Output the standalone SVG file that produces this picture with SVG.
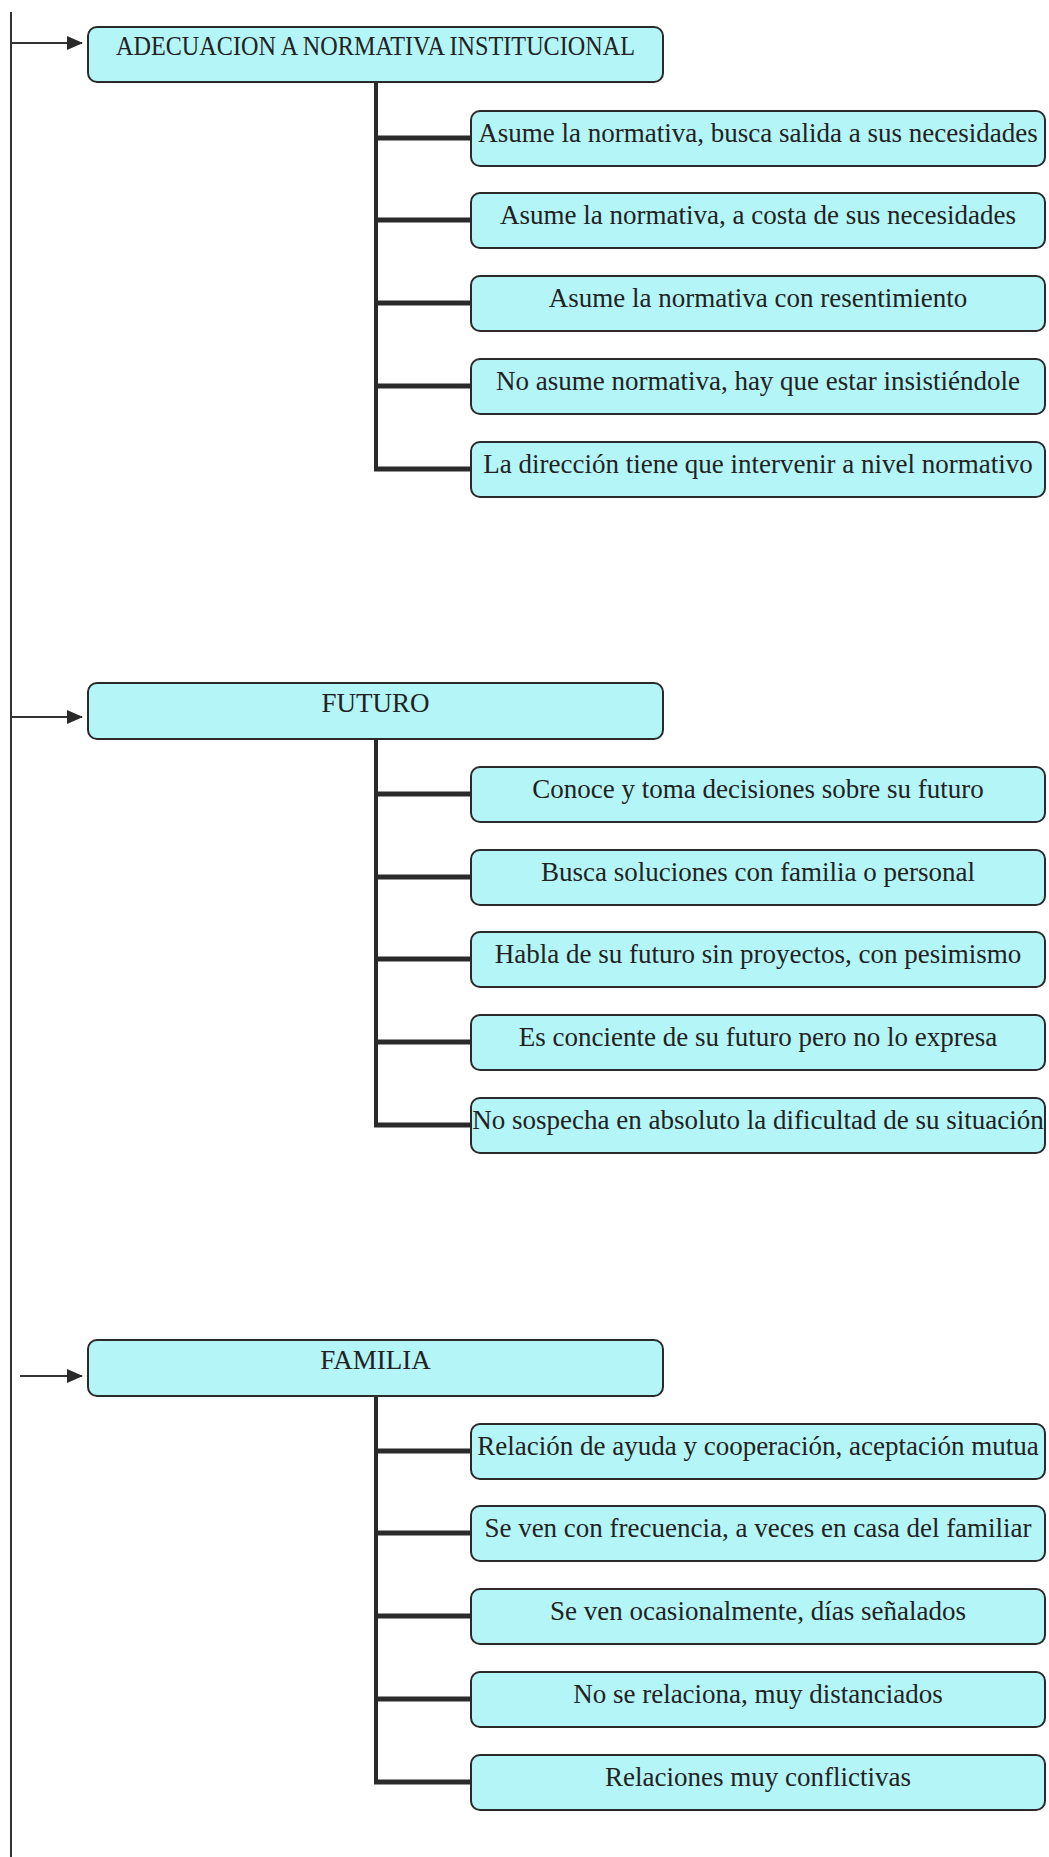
<svg xmlns="http://www.w3.org/2000/svg" width="1049" height="1857" viewBox="0 0 1049 1857">
<style>
.box{fill:#b4f5f7;stroke:#2a2a2a;stroke-width:2}
.t{font-family:"Liberation Serif","Times New Roman",serif;font-size:27px;fill:#222;text-anchor:middle}
.main{stroke:#333;stroke-width:2;fill:none}
.arr{stroke:#333;stroke-width:2;fill:none}
.trunk{stroke:#2a2a2a;stroke-width:4;fill:none}
.br{stroke:#2a2a2a;stroke-width:5;fill:none}
</style>
<defs>
<marker id="ah" markerUnits="userSpaceOnUse" markerWidth="16" markerHeight="14" refX="15" refY="7" orient="auto">
<path d="M0,0 L16,7 L0,14 Z" fill="#2a2a2a"/>
</marker>
</defs>
<g id="connectors">
<line class="main" x1="11" y1="12" x2="11" y2="1857"/>
<line class="arr" x1="12" y1="43" x2="82" y2="43" marker-end="url(#ah)"/>
<line class="arr" x1="12" y1="717" x2="82" y2="717" marker-end="url(#ah)"/>
<line class="arr" x1="20" y1="1376" x2="82" y2="1376" marker-end="url(#ah)"/>
<path class="trunk" d="M376,82 V469"/>
<path class="br" d="M376,138 H471 M376,220 H471 M376,303 H471 M376,386 H471 M374,469 H471"/>
<path class="trunk" d="M376,739 V1125"/>
<path class="br" d="M376,794 H471 M376,877 H471 M376,959 H471 M376,1042 H471 M374,1125 H471"/>
<path class="trunk" d="M376,1396 V1782"/>
<path class="br" d="M376,1451 H471 M376,1533 H471 M376,1616 H471 M376,1699 H471 M374,1782 H471"/>
</g>
<g id="n1"><rect class="box" x="88" y="27" width="575" height="55" rx="9"/><text class="t" x="375.5" y="55" textLength="519" lengthAdjust="spacingAndGlyphs">ADECUACION A NORMATIVA INSTITUCIONAL</text></g>
<g id="n1a"><rect class="box" x="471" y="111" width="574" height="55" rx="9"/><text class="t" x="758" y="142">Asume la normativa, busca salida a sus necesidades</text></g>
<g id="n1b"><rect class="box" x="471" y="193" width="574" height="55" rx="9"/><text class="t" x="758" y="224">Asume la normativa, a costa de sus necesidades</text></g>
<g id="n1c"><rect class="box" x="471" y="276" width="574" height="55" rx="9"/><text class="t" x="758" y="307">Asume la normativa con resentimiento</text></g>
<g id="n1d"><rect class="box" x="471" y="359" width="574" height="55" rx="9"/><text class="t" x="758" y="390">No asume normativa, hay que estar insistiéndole</text></g>
<g id="n1e"><rect class="box" x="471" y="442" width="574" height="55" rx="9"/><text class="t" x="758" y="473">La dirección tiene que intervenir a nivel normativo</text></g>
<g id="n2"><rect class="box" x="88" y="683" width="575" height="56" rx="9"/><text class="t" x="375.5" y="712">FUTURO</text></g>
<g id="n2a"><rect class="box" x="471" y="767" width="574" height="55" rx="9"/><text class="t" x="758" y="798">Conoce y toma decisiones sobre su futuro</text></g>
<g id="n2b"><rect class="box" x="471" y="850" width="574" height="55" rx="9"/><text class="t" x="758" y="881">Busca soluciones con familia o personal</text></g>
<g id="n2c"><rect class="box" x="471" y="932" width="574" height="55" rx="9"/><text class="t" x="758" y="963">Habla de su futuro sin proyectos, con pesimismo</text></g>
<g id="n2d"><rect class="box" x="471" y="1015" width="574" height="55" rx="9"/><text class="t" x="758" y="1046">Es conciente de su futuro pero no lo expresa</text></g>
<g id="n2e"><rect class="box" x="471" y="1098" width="574" height="55" rx="9"/><text class="t" x="758" y="1129">No sospecha en absoluto la dificultad de su situación</text></g>
<g id="n3"><rect class="box" x="88" y="1340" width="575" height="56" rx="9"/><text class="t" x="375.5" y="1369">FAMILIA</text></g>
<g id="n3a"><rect class="box" x="471" y="1424" width="574" height="55" rx="9"/><text class="t" x="758" y="1455">Relación de ayuda y cooperación, aceptación mutua</text></g>
<g id="n3b"><rect class="box" x="471" y="1506" width="574" height="55" rx="9"/><text class="t" x="758" y="1537">Se ven con frecuencia, a veces en casa del familiar</text></g>
<g id="n3c"><rect class="box" x="471" y="1589" width="574" height="55" rx="9"/><text class="t" x="758" y="1620">Se ven ocasionalmente, días señalados</text></g>
<g id="n3d"><rect class="box" x="471" y="1672" width="574" height="55" rx="9"/><text class="t" x="758" y="1703">No se relaciona, muy distanciados</text></g>
<g id="n3e"><rect class="box" x="471" y="1755" width="574" height="55" rx="9"/><text class="t" x="758" y="1786">Relaciones muy conflictivas</text></g>
</svg>
